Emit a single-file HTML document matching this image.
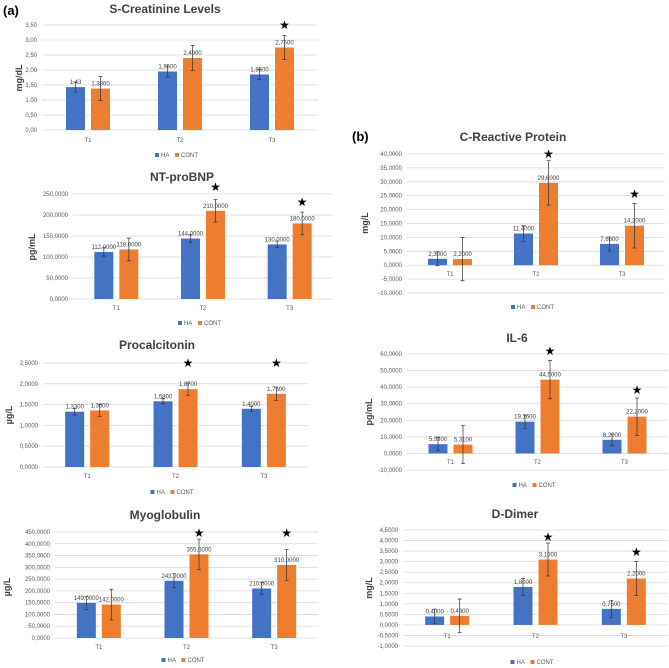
<!DOCTYPE html>
<html><head><meta charset="utf-8">
<style>
body{margin:0;background:#fff;}
svg{display:block;font-family:"Liberation Sans",sans-serif;}
</style></head>
<body>
<svg id="fig" width="669" height="668" viewBox="0 0 669 668">
<text x="3" y="15" font-size="13" font-weight="bold" fill="#000">(a)</text>
<text x="352" y="141" font-size="13" font-weight="bold" fill="#000">(b)</text>
</svg>
<script>
const categories = ["T1","T2","T3"];
// S-Creatinine
const creatHA = [1.43,1.95,1.85];
const creatCONT = [1.38,2.40,2.75];
const creatHAErr = [0.17,0.18,0.17];
const creatCONTErr = [0.40,0.42,0.40];
const creatHALabels = ["1,43","1,9500","1,8500"];
const creatCONTLabels = ["1,3800","2,4000","2,7500"];
const creatTicks = [0,0.5,1,1.5,2,2.5,3,3.5];
const creatTickLabels = ["0,00","0,50","1,00","1,50","2,00","2,50","3,00","3,50"];
const creatStars = [false,false,true];
// NT-proBNP
const ntHA = [112,144,130];
const ntCONT = [118,210,180];
const ntHAErr = [10,10,8];
const ntCONTErr = [27,27,27];
const ntHALabels = ["112,0000","144,0000","130,0000"];
const ntCONTLabels = ["118,0000","210,0000","180,0000"];
const ntTicks = [0,50,100,150,200,250];
const ntTickLabels = ["0,0000","50,0000","100,0000","150,0000","200,0000","250,0000"];
const ntStars = [false,true,true];
// Procalcitonin
const pctHA = [1.33,1.58,1.40];
const pctCONT = [1.36,1.87,1.76];
const pctHAErr = [0.08,0.06,0.06];
const pctCONTErr = [0.15,0.15,0.16];
const pctHALabels = ["1,3300","1,5800","1,4000"];
const pctCONTLabels = ["1,3600","1,8700","1,7600"];
const pctTicks = [0,0.5,1,1.5,2,2.5];
const pctTickLabels = ["0,0000","0,5000","1,0000","1,5000","2,0000","2,5000"];
const pctStars = [false,true,true];
// Myoglobulin
const myoHA = [149,243,210];
const myoCONT = [142,355,310];
const myoHAErr = [28,30,25];
const myoCONTErr = [65,65,65];
const myoHALabels = ["149,0000","243,0000","210,0000"];
const myoCONTLabels = ["142,0000","355,0000","310,0000"];
const myoTicks = [0,50,100,150,200,250,300,350,400,450];
const myoTickLabels = ["0,0000","50,0000","100,0000","150,0000","200,0000","250,0000","300,0000","350,0000","400,0000","450,0000"];
const myoStars = [false,true,true];
// CRP
const crpHA = [2.3,11.4,7.66];
const crpCONT = [2.2,29.6,14.2];
const crpHAErr = [2.5,2.8,2.5];
const crpCONTErr = [7.8,8,8];
const crpHALabels = ["2,3000","11,4000","7,6600"];
const crpCONTLabels = ["2,2000","29,6000","14,2000"];
const crpTicks = [-10,-5,0,5,10,15,20,25,30,35,40];
const crpTickLabels = ["-10,0000","-5,0000","0,0000","5,0000","10,0000","15,0000","20,0000","25,0000","30,0000","35,0000","40,0000"];
const crpStars = [false,true,true];
// IL-6
const il6HA = [5.59,19.16,8.2];
const il6CONT = [5.31,44.5,22.2];
const il6HAErr = [4,4,3.5];
const il6CONTErr = [11.5,11.5,11.3];
const il6HALabels = ["5,5900","19,1600","8,2000"];
const il6CONTLabels = ["5,3100","44,5000","22,2000"];
const il6Ticks = [-10,0,10,20,30,40,50,60];
const il6TickLabels = ["-10,0000","0,0000","10,0000","20,0000","30,0000","40,0000","50,0000","60,0000"];
const il6Stars = [false,true,true];
// D-Dimer
const ddHA = [0.40,1.80,0.76];
const ddCONT = [0.43,3.10,2.20];
const ddHAErr = [0.35,0.4,0.4];
const ddCONTErr = [0.8,0.78,0.8];
const ddHALabels = ["0,4000","1,8000","0,7600"];
const ddCONTLabels = ["0,4300","3,1000","2,2000"];
const ddTicks = [-1,-0.5,0,0.5,1,1.5,2,2.5,3,3.5,4,4.5];
const ddTickLabels = ["-1,0000","-0,5000","0,0000","0,5000","1,0000","1,5000","2,0000","2,5000","3,0000","3,5000","4,0000","4,5000"];
const ddStars = [false,true,true];

const NS="http://www.w3.org/2000/svg";
const svg=document.getElementById("fig");
function mk(tag,attrs,parent,text){
  const e=document.createElementNS(NS,tag);
  for(const k in attrs)e.setAttribute(k,attrs[k]);
  if(text!==undefined)e.textContent=text;
  (parent||svg).appendChild(e);return e;
}
function drawChart(id,title,unit,g,ha,cont,haE,contE,haL,contL,ticks,tickL,stars){
  const grp=mk("g",{});
  
  
  const tmin=ticks[0],tmax=ticks[ticks.length-1];
  const y=v=>g.y1+(g.y0-g.y1)*(tmax-v)/(tmax-tmin);
  const slice=(g.x1-g.x0)/categories.length;
  const cx=i=>g.x0+slice*(i+0.5);
  const t=mk("text",{x:g.tx,y:g.ty,"font-size":12,"font-weight":"bold",fill:"#404040","text-anchor":"middle"},grp,title);
  
  
  const u=mk("text",{x:0,y:0,"font-size":9,"font-weight":"bold",fill:"#404040","text-anchor":"middle",transform:`translate(${g.ux},${g.uy}) rotate(-90)`},grp,unit);
  
  
  ticks.forEach((v,i)=>{
    const l=mk("line",{x1:g.x0,x2:g.x1,y1:y(v),y2:y(v),stroke:"#d9d9d9","stroke-width":0.8},grp);
    
    
    const tl=mk("text",{x:g.x0-5,y:y(v)+2,"font-size":6,fill:"#595959","text-anchor":"end"},grp,tickL[i]);
    
    
  });
  const bw=19;
  const series=[[ha,haE,haL,"#4472C4",-12.5,"HA"],[cont,contE,contL,"#ED7D31",12.5,"CONT"]];
  categories.forEach((c,i)=>{
    series.forEach(s=>{
      const v=s[0][i],bx=cx(i)+s[4];
      const top=Math.min(y(v),y(0)),h=Math.abs(y(v)-y(0));
      const r=mk("rect",{x:bx-bw/2,y:top,width:bw,height:h,fill:s[3]},grp);
      
      
      const e=s[1][i];
      const eg=mk("path",{d:`M${bx},${y(v+e)}V${y(v-e)}M${bx-2},${y(v+e)}H${bx+2}M${bx-2},${y(v-e)}H${bx+2}`,stroke:"#333","stroke-width":0.7,fill:"none"},grp);
      
      
      const dl=mk("text",{x:bx,y:y(v)-3,"font-size":6,fill:"#404040","text-anchor":"middle"},grp,s[2][i]);
      
      
    });
    const cl=mk("text",{x:cx(i),y:g.cy,"font-size":6,fill:"#595959","text-anchor":"middle"},grp,c);
    
    
    if(stars[i]){
      const st=mk("text",{x:cx(i)+12.5,y:g.star[i]+4,"font-size":12,fill:"#000","text-anchor":"middle"},grp,"★");
      
      
    }
  });
  const lx=(g.x0+g.x1)/2;
  const lg=mk("g",{},grp);
  
  
  mk("rect",{x:lx-25,y:g.ly-4,width:4,height:4,fill:"#4472C4"},lg);
  mk("text",{x:lx-19,y:g.ly,"font-size":6,fill:"#595959"},lg,"HA");
  mk("rect",{x:lx-5,y:g.ly-4,width:4,height:4,fill:"#ED7D31"},lg);
  mk("text",{x:lx+1,y:g.ly,"font-size":6,fill:"#595959"},lg,"CONT");
}
drawChart("creatinine","S-Creatinine  Levels","mg/dL",{x0:42,x1:318,y1:25,y0:130,tx:165,ty:13,ux:22,uy:78,cy:142,ly:157,star:[0,0,25]},creatHA,creatCONT,creatHAErr,creatCONTErr,creatHALabels,creatCONTLabels,creatTicks,creatTickLabels,creatStars);
drawChart("nt-probnp","NT-proBNP","pg/mL",{x0:73,x1:333,y1:194,y0:299,tx:182,ty:181,ux:35,uy:247,cy:310,ly:325,star:[0,187,202]},ntHA,ntCONT,ntHAErr,ntCONTErr,ntHALabels,ntCONTLabels,ntTicks,ntTickLabels,ntStars);
drawChart("procalcitonin","Procalcitonin","µg/L",{x0:43,x1:308,y1:363,y0:467,tx:157,ty:349,ux:12,uy:415,cy:478,ly:494,star:[0,363,363]},pctHA,pctCONT,pctHAErr,pctCONTErr,pctHALabels,pctCONTLabels,pctTicks,pctTickLabels,pctStars);
drawChart("myoglobulin","Myoglobulin","µg/L",{x0:55,x1:318,y1:532,y0:638,tx:165,ty:519,ux:10,uy:587,cy:649,ly:662,star:[0,533,533]},myoHA,myoCONT,myoHAErr,myoCONTErr,myoHALabels,myoCONTLabels,myoTicks,myoTickLabels,myoStars);
drawChart("crp","C-Reactive  Protein","mg/L",{x0:407,x1:665,y1:154,y0:293,tx:513,ty:141,ux:368,uy:223,cy:276,ly:309,star:[0,154,194]},crpHA,crpCONT,crpHAErr,crpCONTErr,crpHALabels,crpCONTLabels,crpTicks,crpTickLabels,crpStars);
drawChart("il6","IL-6","pg/mL",{x0:407,x1:668,y1:354,y0:470,tx:517,ty:342,ux:372,uy:412,cy:464,ly:487,star:[0,351,390]},il6HA,il6CONT,il6HAErr,il6CONTErr,il6HALabels,il6CONTLabels,il6Ticks,il6TickLabels,il6Stars);
drawChart("d-dimer","D-Dimer","mg/L",{x0:403,x1:668,y1:530,y0:646,tx:515,ty:518,ux:372,uy:588,cy:638,ly:664,star:[0,537,552]},ddHA,ddCONT,ddHAErr,ddCONTErr,ddHALabels,ddCONTLabels,ddTicks,ddTickLabels,ddStars);
</script>
</body></html>
